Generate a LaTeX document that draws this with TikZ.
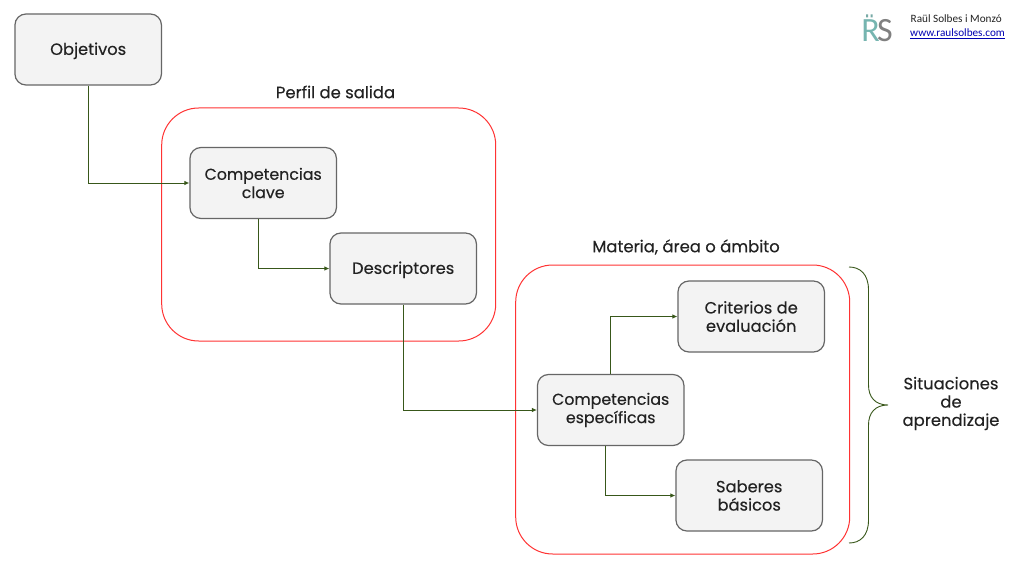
\documentclass[tikz,border=0pt]{standalone}
\usepackage{fontspec}
\setmainfont{Poppins}[FakeBold=0.25]
\newfontfamily\logofont{Carlito}
\usetikzlibrary{arrows.meta}
\definecolor{boxfill}{HTML}{F3F3F3}
\definecolor{boxline}{HTML}{666666}
\definecolor{linkgreen}{HTML}{38571A}
\definecolor{redline}{HTML}{FF3333}
\definecolor{txt}{HTML}{222222}
\definecolor{teal}{HTML}{76B5B0}
\definecolor{logogray}{HTML}{808080}
\tikzset{
  x=1pt,y=-1pt,
  stepbox/.style={draw=boxline,fill=boxfill,line width=1.2pt,rounded corners=11pt,minimum width=146.5pt,minimum height=71pt,inner sep=0pt,align=center,text=txt,font=\fontsize{16.3}{18.3}\selectfont},
  compbox/.style={stepbox,font=\fontsize{15.8}{18.3}\selectfont},
  groupbox/.style={draw=redline,line width=1pt,rounded corners=37pt,inner sep=0pt},
  link/.style={draw=linkgreen,line width=0.9pt,-{Latex[length=5pt,width=4.5pt]}},
  title/.style={text=txt,font=\fontsize{16.4}{18.3}\selectfont,align=center,inner sep=0pt},
}
\begin{document}
\begin{tikzpicture}
\useasboundingbox (0,0) rectangle (1024,575);
\fill[white] (0,0) rectangle (1024,575);
\node[groupbox,minimum width=334pt,minimum height=233pt] (perfil) at (328.7,224.5) {};
\node[groupbox,minimum width=334pt,minimum height=289pt] (materia) at (682.7,409.5) {};
\node[stepbox] (obj) at (88.2,49.5) {\rule{0pt}{15pt}Objetivos};
\node[compbox] (cc) at (263.2,183) {Competencias\\clave};
\node[stepbox] (des) at (403.2,268.5) {\rule{0pt}{15pt}Descriptores};
\node[stepbox] (crit) at (751.2,316.5) {Criterios de\\evaluación};
\node[compbox] (ce) at (610.7,410) {Competencias\\específicas};
\node[stepbox] (sab) at (749.2,495.5) {Saberes\\básicos};
\node[title] (t1) at (335.5,92) {Perfil de salida};
\node[title] (t2) at (686,247) {Materia, área o ámbito};
\node[title] (sit) at (951,403.5) {Situaciones\\de\\aprendizaje};
\draw[link] (obj.south) |- (cc.west);
\draw[link] ([xshift=-4.5pt]cc.south) |- (des.west);
\draw[link] (des.south) |- (ce.west);
\draw[link] (ce.north) |- (crit.west);
\draw[link] ([xshift=-5pt]ce.south) |- (sab.west);
\coordinate (bt) at (849,267);
\coordinate (bm) at (888,405);
\coordinate (bb) at (849,543);
\draw[linkgreen,line width=0.9pt] (bt) .. controls (860,267) and (868.5,274) .. (868.5,290)
  -- (868.5,385) .. controls (868.5,397) and (875,405) .. (bm)
  .. controls (875,405) and (868.5,413) .. (868.5,425)
  -- (868.5,520) .. controls (868.5,536) and (860,543) .. (bb);
\node[inner sep=0pt,text=teal,font=\logofont\fontsize{34}{34}\selectfont] (logoR) at (870.5,31) {R};
\node[inner sep=0pt,text=logogray,font=\logofont\fontsize{34}{34}\selectfont] (logoS) at (885,31) {S};
\fill[teal!80!gray] (866,14.5) rectangle (868,17.5) (870.5,14.5) rectangle (872.5,17.5);
\node[anchor=west,inner sep=0pt,text=txt,font=\logofont\fontsize{11.2}{13}\selectfont] (name) at (910.5,18.5) {Raül Solbes i Monzó};
\node[anchor=west,inner sep=0pt,text=blue!70!black,font=\logofont\fontsize{11.2}{13}\selectfont] (web) at (910,33) {www.raulsolbes.com};
\draw[blue!70!black,line width=0.6pt] (910,38.5) -- (1005,38.5);
\end{tikzpicture}
\end{document}
